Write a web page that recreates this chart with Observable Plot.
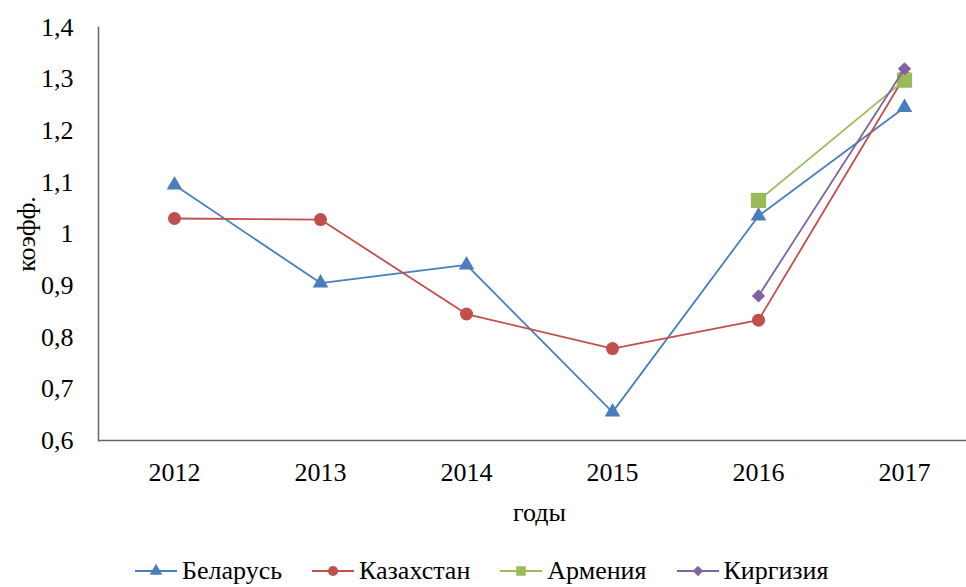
<!DOCTYPE html>
<html><head><meta charset="utf-8">
<script src="https://cdn.jsdelivr.net/npm/d3@7"></script>
<script src="https://cdn.jsdelivr.net/npm/@observablehq/plot@0.6"></script>
<style>
body{margin:0;background:#fff;overflow:hidden;font-family:'Liberation Serif','DejaVu Serif',serif;}
#wrap{position:relative;width:966px;height:587px;overflow:hidden;}
#legend{position:absolute;left:135px;top:558px;display:flex;gap:30px;font-size:26px;line-height:26px;color:#000;white-space:nowrap;font-family:'Liberation Serif','DejaVu Serif',serif;}
.item{display:flex;align-items:center;gap:5px}
.item svg{display:block}
svg text{font-family:'Liberation Serif','DejaVu Serif',serif !important;}
</style></head><body><div id="wrap"><div id="chart"></div><div id="legend"></div></div>
<script>
const years = ["2012","2013","2014","2015","2016","2017"];
const countries = ["Беларусь","Казахстан","Армения","Киргизия"];
const belarus = [1.095, 0.905, 0.94, 0.655, 1.035, 1.245];
const kazakhstan = [1.03, 1.028, 0.845, 0.778, 0.833, 1.305];
const armenia = [null, null, null, null, 1.065, 1.298];
const kirgizia = [null, null, null, null, 0.88, 1.32];
const yTicks = [0.6, 0.7, 0.8, 0.9, 1.0, 1.1, 1.2, 1.3, 1.4];
const colors = ["#4A7EBB", "#C0504D", "#9BBB59", "#8064A2"];
const symbols = ["triangle", "circle", "square", "diamond2"];
const radii = [5.8, 6.5, 8.6, 6];

const series = [belarus, kazakhstan, armenia, kirgizia];
const rows = [];
series.forEach((vals, i) => vals.forEach((v, j) => {
  if (v != null) rows.push({country: countries[i], year: years[j], value: v});
}));

const fmt = d => String(Math.round(d * 10) / 10).replace(".", ",");
const marks = [
  Plot.ruleY([0.6], {stroke: "#666", strokeWidth: 1.5}),
  Plot.frame({anchor: "left", stroke: "#666", strokeWidth: 1.5}),
  Plot.axisY({ticks: yTicks, tickFormat: fmt, tickSize: 0, tickPadding: 25, fontSize: 26,
    label: "коэфф.", labelAnchor: "center", labelOffset: 82, labelArrow: "none"}),
  Plot.axisX({tickSize: 0, tickPadding: 22, fontSize: 26,
    label: "годы", labelAnchor: "center", labelOffset: 80, labelArrow: "none"})
];
countries.forEach((c, i) => {
  const d = rows.filter(r => r.country === c);
  marks.push(Plot.line(d, {x: "year", y: "value", stroke: colors[i], strokeWidth: 1.8}));
  marks.push(Plot.dot(d, {x: "year", y: "value", fill: colors[i], symbol: symbols[i], r: radii[i]}));
});

const chart = Plot.plot({
  width: 966, height: 545,
  marginLeft: 98, marginRight: -14, marginTop: 27, marginBottom: 105,
  style: {fontFamily: "'Liberation Serif', 'DejaVu Serif', serif", fontSize: "26px", color: "#000", background: "#fff", overflow: "hidden"},
  x: {type: "point", domain: years, padding: 0.512},
  y: {domain: [0.6, 1.4]},
  marks
});
document.getElementById("chart").appendChild(chart);

const symMap = {triangle: d3.symbolTriangle, circle: d3.symbolCircle, square: d3.symbolSquare, diamond2: d3.symbolDiamond2};
const legend = d3.select("#legend");
countries.forEach((c, i) => {
  const item = legend.append("div").attr("class", "item");
  const svg = item.append("svg").attr("width", 42).attr("height", 20);
  svg.append("line").attr("x1", 0).attr("x2", 42).attr("y1", 10).attr("y2", 10)
    .attr("stroke", colors[i]).attr("stroke-width", 1.8);
  svg.append("path").attr("transform", "translate(21,10)")
    .attr("d", d3.symbol(symMap[symbols[i]], [70, 80, 90, 70][i])())
    .attr("fill", colors[i]);
  item.append("span").text(c);
});
</script></body></html>
